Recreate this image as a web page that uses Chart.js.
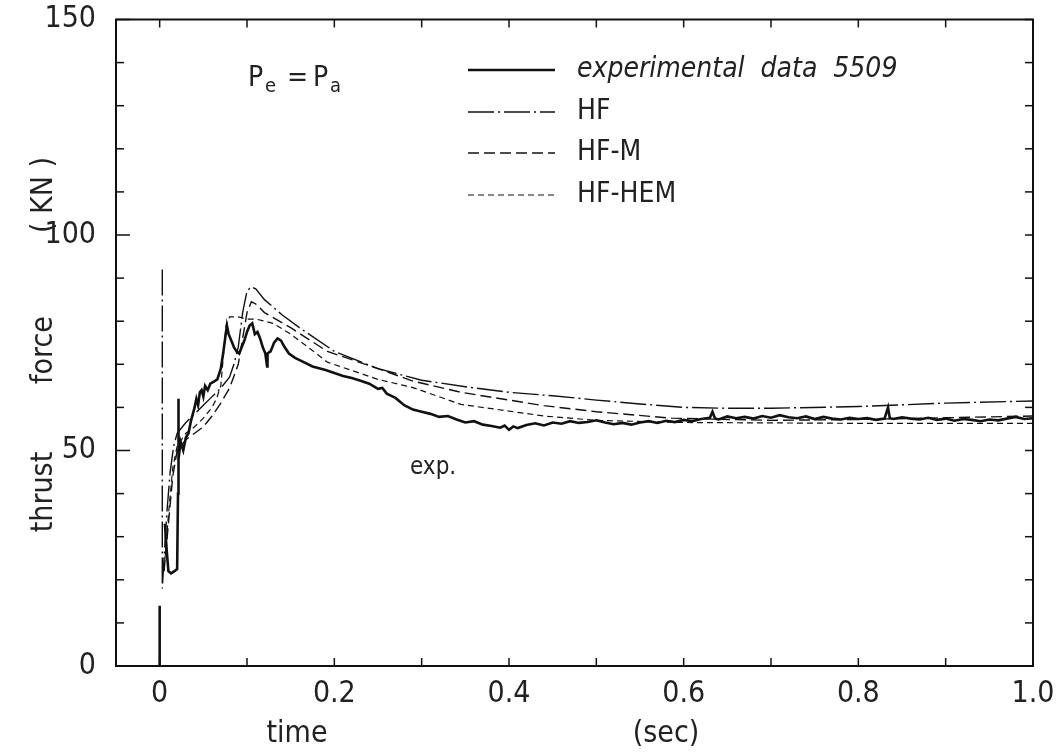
<!DOCTYPE html>
<html>
<head>
<meta charset="utf-8">
<script src="https://cdn.jsdelivr.net/npm/chart.js@4"></script>
<style>
  html, body { margin: 0; padding: 0; background: #fff; }
  #wrap { width: 1058px; height: 753px; }
</style>
</head>
<body>
<div id="wrap"><canvas id="chartCanvas" width="1058" height="753"></canvas></div>
<script>
// thrust force vs time
const xTicks = [0, 0.1, 0.2, 0.3, 0.4, 0.5, 0.6, 0.7, 0.8, 0.9, 1.0];
const yTicks = [0, 10, 20, 30, 40, 50, 60, 70, 80, 90, 100, 110, 120, 130, 140, 150];
const seriesNames = ['experimental  data  5509', 'HF', 'HF-M', 'HF-HEM'];

// experimental (solid, noisy)
const expT = [0, 0, 0.002, 0.006, 0.008, 0.010, 0.013, 0.017, 0.020, 0.021, 0.0212, 0.0215, 0.022, 0.024, 0.027,
  0.030, 0.033, 0.036, 0.038, 0.040, 0.042, 0.044, 0.046, 0.048, 0.050, 0.052, 0.055, 0.058, 0.062, 0.066,
  0.070, 0.073, 0.075, 0.077, 0.079, 0.082, 0.085, 0.088, 0.091, 0.094, 0.097, 0.100, 0.103, 0.106, 0.109,
  0.112, 0.115, 0.118, 0.121, 0.123, 0.1235, 0.127, 0.131, 0.135, 0.139, 0.143, 0.148, 0.155, 0.165, 0.175,
  0.19, 0.20, 0.21, 0.22, 0.23, 0.24, 0.25, 0.255, 0.26, 0.27, 0.28, 0.29, 0.30, 0.31, 0.32, 0.33, 0.34,
  0.35, 0.36, 0.37, 0.38, 0.39, 0.395, 0.40, 0.405, 0.41, 0.42, 0.43, 0.44, 0.45, 0.46, 0.47, 0.48, 0.49,
  0.50, 0.51, 0.52, 0.53, 0.54, 0.55, 0.56, 0.57, 0.58, 0.59, 0.60, 0.61, 0.62, 0.63, 0.633, 0.636, 0.64,
  0.65, 0.66, 0.67, 0.68, 0.69, 0.70, 0.71, 0.72, 0.73, 0.74, 0.75, 0.76, 0.77, 0.78, 0.79, 0.80, 0.81,
  0.82, 0.83, 0.834, 0.836, 0.84, 0.85, 0.86, 0.87, 0.88, 0.89, 0.90, 0.91, 0.92, 0.93, 0.94, 0.95, 0.96,
  0.97, 0.98, 0.99, 1.0];
const expF = [0, 14, null, 33, 27, 22, 21.5, 22, 22.5, 40, 62, 49, 48, 52, 50,
  53, 54, 57, 58.5, 60, 62, 60.5, 63.5, 64, 62.5, 65, 64, 65.5, 66, 66.5,
  69, 73, 76, 79, 77, 75.5, 74, 73, 72.5, 74, 75.5, 77.5, 79, 79.5, 77,
  77.5, 76, 74, 72.5, 69.5, 72.5, 73, 75, 76, 75.5, 74, 72.5, 71.5, 70.5, 69.5,
  68.7, 68, 67.3, 66.8, 66.2, 65.5, 64.3, 64.5, 63.2, 62.2, 60.5, 59.5, 59, 58.5, 57.8, 58, 57.2,
  56.5, 56.8, 56, 55.7, 55.3, 55.8, 54.8, 55.6, 55.2, 55.9, 56.3, 55.8, 56.5, 56.2, 56.8, 56.4, 56.6,
  57, 56.5, 56.1, 56.4, 56, 56.5, 56.8, 56.4, 56.9, 56.6, 57.1, 56.8, 57.3, 57.6, 59, 57.4, 57.2,
  57.9, 57.5, 57.8, 57.4, 58, 57.6, 58.2, 57.7, 57.5, 57.9, 57.3, 57.8, 57.4, 57.2, 57.6, 57.3, 57.5,
  57.1, 57.4, 60, 57.5, 57.3, 57.7, 57.4, 57.2, 57.6, 57.1, 57.4, 56.9, 57.3, 57.1, 56.8, 57.2, 57,
  57.4, 57.8, 57.3, 57.5];

// HF (dash-dot)
const hfT = [0.003, 0.003, 0.005, 0.008, 0.012, 0.016, 0.020, 0.030, 0.040, 0.050, 0.060, 0.070, 0.080,
  0.085, 0.090, 0.095, 0.100, 0.105, 0.110, 0.120, 0.140, 0.160, 0.200, 0.250, 0.300, 0.350, 0.400,
  0.450, 0.500, 0.550, 0.600, 0.650, 0.700, 0.800, 0.900, 1.0];
const hfF = [92, 18, 25, 35, 45, 51, 54, 56.5, 58.5, 60.5, 62.5, 64.5, 67,
  70, 74, 82, 87, 88, 87.5, 85, 81.5, 78.5, 73, 69, 66.3, 64.8, 63.5,
  62.7, 61.7, 60.8, 60, 59.8, 59.8, 60.2, 61, 61.5];

// HF-M (dashed)
const hfmT = [0.005, 0.010, 0.015, 0.020, 0.030, 0.040, 0.050, 0.060, 0.070, 0.080, 0.090, 0.095, 0.100,
  0.105, 0.110, 0.120, 0.150, 0.192, 0.250, 0.290, 0.345, 0.440, 0.500, 0.586, 0.700, 0.800, 0.900, 1.0];
const hfmF = [22, 33, 44, 50, 52.5, 54, 55.5, 58, 61, 64.5, 70, 76, 82,
  84.5, 84, 82, 78.5, 73, 69, 66.1, 63.5, 60.4, 59, 57.5, 57, 57.2, 57.6, 58];

// HF-HEM (short dashes)
const hemT = [0.005, 0.010, 0.015, 0.020, 0.030, 0.040, 0.050, 0.060, 0.065, 0.070, 0.073, 0.076, 0.080,
  0.090, 0.100, 0.110, 0.130, 0.150, 0.173, 0.192, 0.250, 0.290, 0.345, 0.440, 0.500, 0.600, 0.800, 1.0];
const hemF = [22, 35, 46, 51, 54, 55.5, 57.5, 60, 62, 65, 72, 79, 81,
  81, 80.5, 80.5, 79.5, 77, 73.5, 70.5, 66.5, 64.6, 60.7, 58, 57, 56.5, 56.3, 56.3];

const FONT = "'DejaVu Sans Condensed', 'Liberation Sans Narrow', 'DejaVu Sans', sans-serif";
const INK = '#111';
const TEXT = '#222';

function pts(t, f) {
  return t.map((v, i) => ({ x: v, y: f[i] }));
}

function line(ctx, x1, y1, x2, y2) {
  ctx.beginPath();
  ctx.moveTo(x1, y1);
  ctx.lineTo(x2, y2);
  ctx.stroke();
}

// box with inward ticks, legend and free text
const framePlugin = {
  id: 'frame',
  afterDraw(chart) {
    const { ctx, chartArea: a, scales: { x, y } } = chart;
    ctx.save();
    ctx.strokeStyle = INK;
    ctx.fillStyle = TEXT;
    ctx.lineWidth = 2;
    ctx.strokeRect(a.left, a.top, a.right - a.left, a.bottom - a.top);

    ctx.lineWidth = 1.5;
    x.ticks.forEach(t => {
      const px = x.getPixelForValue(t.value);
      line(ctx, px, a.bottom, px, a.bottom - 8);
      line(ctx, px, a.top, px, a.top + 8);
    });
    y.ticks.forEach(t => {
      const py = y.getPixelForValue(t.value);
      const len = t.value % 50 === 0 ? 14 : 8;
      line(ctx, a.left, py, a.left + len, py);
      line(ctx, a.right, py, a.right - 8, py);
    });

    // legend
    const rows = [70, 112, 153, 195];
    chart.data.datasets.forEach((ds, i) => {
      ctx.save();
      ctx.lineWidth = ds.borderWidth;
      ctx.setLineDash(ds.borderDash || []);
      line(ctx, 468, rows[i], 555, rows[i]);
      ctx.restore();
      ctx.font = (i === 0 ? 'italic ' : '') + '28px ' + FONT;
      ctx.textBaseline = 'middle';
      ctx.textAlign = 'left';
      ctx.fillText(ds.label, 577, rows[i]);
    });

    // Pe = Pa
    ctx.textBaseline = 'alphabetic';
    ctx.font = '28px ' + FONT;
    ctx.fillText('P', 248, 86);
    ctx.fillText('=', 287, 86);
    ctx.fillText('P', 313, 86);
    ctx.font = '20px ' + FONT;
    ctx.fillText('e', 265, 92);
    ctx.fillText('a', 330, 92);

    // exp. label
    ctx.font = '24px ' + FONT;
    ctx.fillText('exp.', 410, 474);

    // axis titles
    ctx.font = '30px ' + FONT;
    ctx.textAlign = 'center';
    ctx.fillText('time', 297, 742);
    ctx.fillText('(sec)', 666, 742);
    ctx.save();
    ctx.translate(52, 0);
    ctx.rotate(-Math.PI / 2);
    ctx.fillText('thrust', -492, 0);
    ctx.fillText('force', -350, 0);
    ctx.fillText('( KN )', -195, 0);
    ctx.restore();

    ctx.restore();
  }
};

const ctx = document.getElementById('chartCanvas').getContext('2d');

new Chart(ctx, {
  type: 'line',
  data: {
    datasets: [
      { label: seriesNames[0], data: pts(expT, expF), borderColor: INK, borderWidth: 2.6, borderDash: [] },
      { label: seriesNames[1], data: pts(hfT, hfF), borderColor: INK, borderWidth: 1.4, borderDash: [26, 4, 2, 4] },
      { label: seriesNames[2], data: pts(hfmT, hfmF), borderColor: INK, borderWidth: 1.4, borderDash: [11, 5] },
      { label: seriesNames[3], data: pts(hemT, hemF), borderColor: INK, borderWidth: 1.2, borderDash: [6, 4] }
    ]
  },
  options: {
    responsive: false,
    animation: false,
    layout: { padding: { top: 19, right: 25, left: 0, bottom: 0 } },
    elements: { point: { radius: 0 }, line: { tension: 0, fill: false } },
    plugins: {
      legend: { display: false },
      tooltip: { enabled: false }
    },
    scales: {
      x: {
        type: 'linear',
        min: -0.05,
        max: 1.0,
        grid: { display: false },
        border: { display: false },
        afterBuildTicks: s => { s.ticks = xTicks.map(v => ({ value: v })); },
        afterFit: s => { s.height = 87; },
        ticks: {
          autoSkip: false,
          maxRotation: 0,
          padding: 2,
          color: TEXT,
          font: { family: FONT, size: 30 },
          callback: v => {
            const k = Math.round(v * 10);
            if (k % 2 !== 0) return '';
            return k === 0 ? '0' : v.toFixed(1);
          }
        }
      },
      y: {
        min: 0,
        max: 150,
        grid: { display: false },
        border: { display: false },
        afterBuildTicks: s => { s.ticks = yTicks.map(v => ({ value: v })); },
        afterFit: s => { s.width = 116; },
        ticks: {
          autoSkip: false,
          padding: 12,
          color: TEXT,
          font: { family: FONT, size: 30, lineHeight: 0.5 },
          callback: v => (v % 50 === 0 ? String(v) : '')
        }
      }
    }
  },
  plugins: [framePlugin]
});
</script>
</body>
</html>
